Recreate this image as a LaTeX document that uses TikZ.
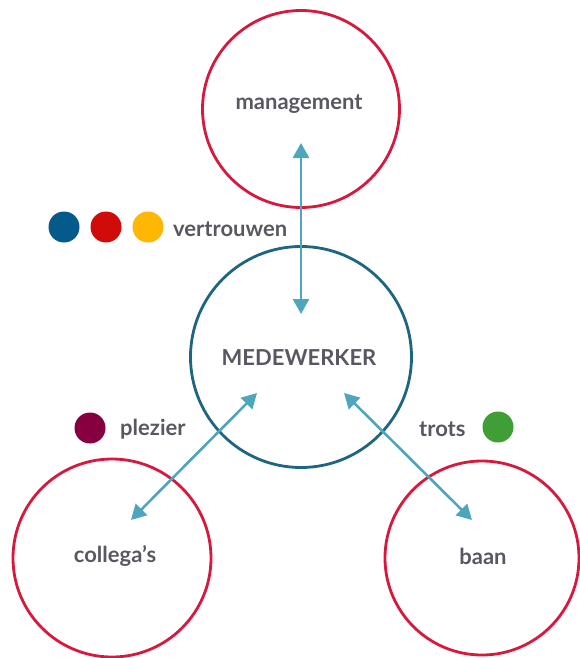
\documentclass[tikz,border=0pt]{standalone}
\usepackage{fontspec}
\setmainfont{Lato}
\usetikzlibrary{arrows.meta}
\definecolor{ringred}{HTML}{D6193C}
\definecolor{ringblue}{HTML}{1D6580}
\definecolor{arrowteal}{HTML}{4DA6BC}
\definecolor{txtgrey}{HTML}{585862}
\definecolor{dotblue}{HTML}{045A8A}
\definecolor{dotred}{HTML}{D10A0A}
\definecolor{dotyellow}{HTML}{FFB703}
\definecolor{dotpurple}{HTML}{86003F}
\definecolor{dotgreen}{HTML}{3F9E36}
\tikzset{
  ring/.style={circle, draw=ringred, line width=2.8pt, inner sep=0pt},
  mainring/.style={circle, draw=ringblue, line width=2.8pt, inner sep=0pt},
  lbl/.style={text=txtgrey, font=\bfseries\fontsize{22}{24}\selectfont, inner sep=0pt},
  dot/.style={circle, inner sep=0pt, minimum size=31pt},
  link/.style={draw=arrowteal, line width=2.6pt, {Triangle[length=15pt,width=16pt]}-{Triangle[length=15pt,width=16pt]}}
}
\begin{document}
\begin{tikzpicture}[x=1pt,y=-1pt]
\useasboundingbox (0,0) rectangle (579,658);
% circles
\node[ring, minimum size=197pt] (mgmt) at (301,109) {};
\node[mainring, minimum size=221pt] (mw) at (301,357) {};
\node[ring, minimum size=198pt] (col) at (112,558) {};
\node[ring, minimum size=194pt] (baan) at (482,558) {};
% labels
\node[lbl] (tmgmt) at (299,104) {management};
\node[lbl] (tmw) at (299,358) {MEDEWERKER};
\node[lbl] (tcol) at (115,556) {collega’s};
\node[lbl] (tbaan) at (483,556) {baan};
% arrow endpoints
\coordinate (a1) at (301,143);
\coordinate (a2) at (301,314);
\coordinate (b1) at (257,393);
\coordinate (b2) at (131,520);
\coordinate (c1) at (344,393);
\coordinate (c2) at (472,520);
\draw[link] (a1) -- (a2);
\draw[link] (b1) -- (b2);
\draw[link] (c1) -- (c2);
% dots and value labels
\node[dot, fill=dotblue] (d1) at (64,227) {};
\node[dot, fill=dotred] (d2) at (106,227) {};
\node[dot, fill=dotyellow] (d3) at (148,227) {};
\node[lbl, anchor=west] (tvert) at (173,229) {vertrouwen};
\node[dot, fill=dotpurple] (d4) at (90,428) {};
\node[lbl, anchor=west] (tplez) at (120,429) {plezier};
\node[lbl, anchor=west] (ttrots) at (419,429) {trots};
\node[dot, fill=dotgreen] (d5) at (498,427) {};
\end{tikzpicture}
\end{document}
